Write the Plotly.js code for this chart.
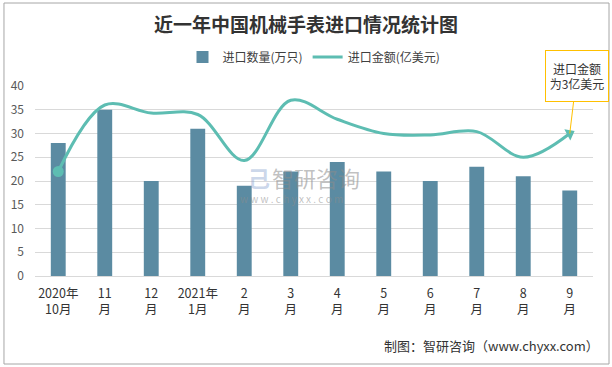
<!DOCTYPE html>
<html>
<head>
<meta charset="utf-8">
<script src="https://cdn.plot.ly/plotly-3.0.1.min.js"></script>
<style>html,body{margin:0;padding:0;background:#fff;}#chart{width:612px;height:367px;}</style>
</head>
<body>
<div id="chart"></div>
<script>
var categories = ['2020年<br>10月','11<br>月','12<br>月','2021年<br>1月','2<br>月','3<br>月','4<br>月','5<br>月','6<br>月','7<br>月','8<br>月','9<br>月'];
var quantity = [28, 35, 20, 31, 19, 22, 24, 22, 20, 23, 21, 18];
var amount = [22, 36, 34.3, 34, 24.3, 37, 33, 30, 29.7, 30.4, 25, 30];
var yTicks = [0, 5, 10, 15, 20, 25, 30, 35, 40];

var font = '"Noto Sans CJK SC", "Microsoft YaHei", sans-serif';
var n = amount.length;
var lineColor = '#5dbdb2';

var traces = [
  {
    type: 'bar', name: '进口数量(万只)', x: categories, y: quantity,
    width: 0.32,
    marker: {color: '#5b8ba2', line: {width: 0}}
  },
  {
    type: 'scatter', mode: 'lines', name: '进口金额(亿美元)', x: categories, y: amount,
    line: {shape: 'spline', smoothing: 1, color: lineColor, width: 3}
  },
  {
    type: 'scatter', mode: 'markers', showlegend: false, x: [categories[0]], y: [amount[0]],
    marker: {size: 11, symbol: 'circle', color: lineColor, line: {width: 0}}
  },
  {
    type: 'scatter', mode: 'markers', showlegend: false, x: [categories[n - 1]], y: [amount[n - 1]],
    marker: {size: 11, symbol: 'triangle-up', angle: 62, color: lineColor, line: {width: 0}}
  }
];

var layout = {
  width: 612, height: 367,
  margin: {l: 35, r: 19, t: 86, b: 91},
  paper_bgcolor: '#fff', plot_bgcolor: '#fff',
  font: {family: font, size: 12, color: '#404040'},
  title: {text: '<b>近一年中国机械手表进口情况统计图</b>', font: {family: font, size: 19, color: '#333'}, x: 0.5, xanchor: 'center', y: 0.932, yanchor: 'middle'},
  showlegend: true,
  legend: {orientation: 'h', x: 0.5, xanchor: 'center', y: 1.153, yanchor: 'middle', font: {size: 12, color: '#404040'}, itemwidth: 30, bgcolor: 'rgba(0,0,0,0)'},
  xaxis: {type: 'category', range: [-0.5, 11.5], autorange: false, showgrid: false, showline: true, linecolor: '#d9d9d9', linewidth: 1, ticks: '', tickfont: {size: 12.5, color: '#333'}, ticklabelstandoff: 6, fixedrange: true},
  yaxis: {range: [0, 40], autorange: false, tickvals: yTicks, showgrid: true, gridcolor: '#d9d9d9', gridwidth: 1, zeroline: false, showline: false, ticks: '', tickfont: {size: 12, color: '#595959'}, ticklabelstandoff: 10, fixedrange: true},
  shapes: [
    {type: 'rect', xref: 'paper', yref: 'paper', x0: -0.0556, x1: 1.0287, y0: -0.4632, y1: 1.4368, line: {color: '#a6a6a6', width: 1}, fillcolor: 'rgba(0,0,0,0)', layer: 'below'}
  ],
  annotations: [
    {x: categories[n - 1], y: amount[n - 1], xref: 'x', yref: 'y', text: '进口金额<br>为3亿美元', showarrow: true, arrowhead: 0, arrowwidth: 1, arrowcolor: '#ffc000', ax: 7, ay: -58, width: 60, height: 48, bordercolor: '#ffc000', borderwidth: 1, borderpad: 1, bgcolor: '#fff', font: {size: 12, color: '#333'}},
    {xref: 'paper', yref: 'paper', x: 1, xanchor: 'right', xshift: 8, y: -0.368, yanchor: 'middle', text: '制图：智研咨询（www.chyxx.com）', showarrow: false, font: {size: 13, color: '#333'}},
    {xref: 'paper', yref: 'paper', x: (270 - 35) / 558, xanchor: 'left', y: (276 - 177) / 190, yanchor: 'middle', text: '智研咨询', showarrow: false, font: {size: 22, color: 'rgba(140,140,140,0.55)'}},
    {xref: 'paper', yref: 'paper', x: (238 - 35) / 558, xanchor: 'left', y: (276 - 198) / 190, yanchor: 'middle', text: 'w w w . c h y x x . c o m', showarrow: false, font: {size: 10, color: 'rgba(140,140,140,0.55)'}},
    {xref: 'paper', yref: 'paper', x: (246 - 35) / 558, xanchor: 'left', y: (276 - 177) / 190, yanchor: 'middle', text: '<b>己</b>', showarrow: false, font: {size: 22, color: 'rgba(120,150,200,0.4)'}}
  ]
};

Plotly.newPlot('chart', traces, layout, {displayModeBar: false, staticPlot: true});
</script>
</body>
</html>
